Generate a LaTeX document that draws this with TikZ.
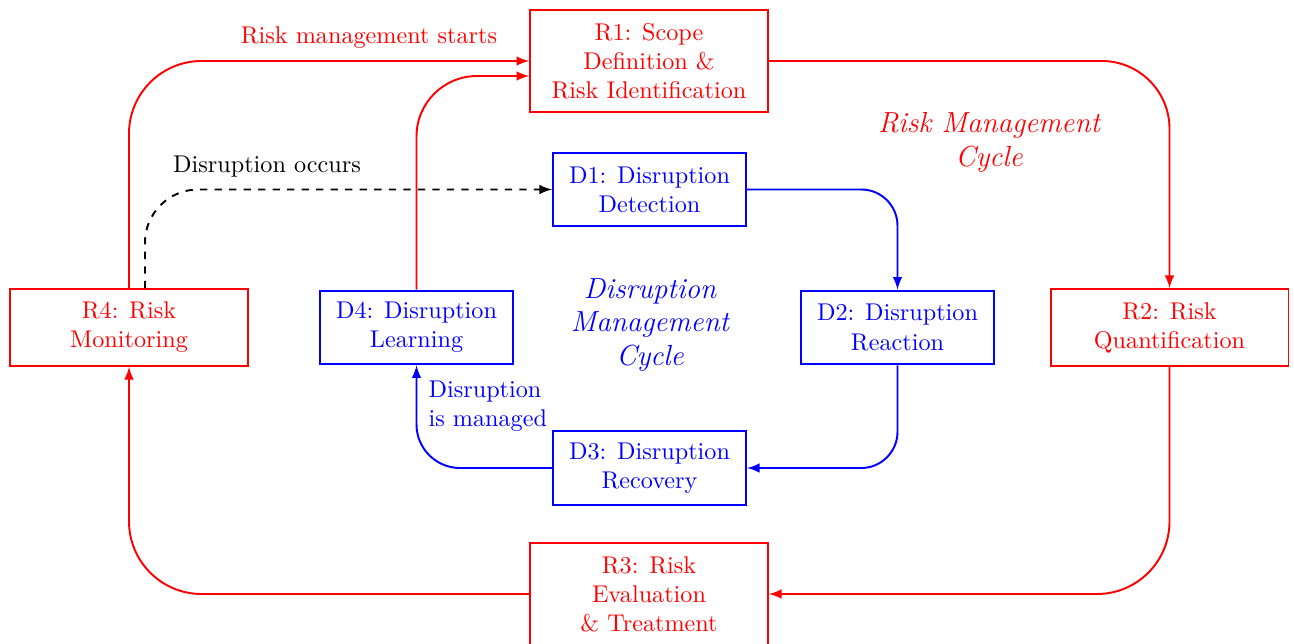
\documentclass[tikz,border=0pt]{standalone}
\usetikzlibrary{arrows}
\begin{document}
\begin{tikzpicture}[x=0.4132pt, y=-0.4132pt,
  rbox/.style={draw=red, text=red, line width=0.8pt, align=center, minimum width=98.3pt, inner sep=2pt},
  dbox/.style={draw=blue, text=blue, line width=0.8pt, align=center, minimum width=79.8pt, minimum height=30.5pt, inner sep=2pt},
  rline/.style={draw=red, line width=0.8pt, -latex},
  dline/.style={draw=blue, line width=0.8pt, -latex},
  cyclelabel/.style={font=\large\itshape, align=center}]
\useasboundingbox (0,0) rectangle (1294,644);

% risk management cycle
\node[rbox, minimum height=42.1pt] (R1) at (649,61) {R1: Scope\\Definition \&\\Risk Identification};
\node[rbox, minimum height=31.8pt] (R2) at (1169.5,327.5) {R2: Risk\\Quantification};
\node[rbox, minimum height=42.1pt] (R3) at (649,594) {R3: Risk\\Evaluation\\\& Treatment};
\node[rbox, minimum height=31.8pt] (R4) at (129,327.5) {R4: Risk\\Monitoring};

% disruption management cycle
\node[dbox] (D1) at (649.5,189.5) {D1: Disruption\\Detection};
\node[dbox] (D2) at (897.5,327.5) {D2: Disruption\\Reaction};
\node[dbox] (D3) at (649.5,468) {D3: Disruption\\Recovery};
\node[dbox] (D4) at (416.5,327.5) {D4: Disruption\\Learning};

\node[cyclelabel, text=red] (RC) at (989,142) {Risk Management\\Cycle};
\node[cyclelabel, text=blue] (DC) at (650,325) {Disruption\\Management\\Cycle};

% outer loop
\draw[rline, rounded corners=28pt] (R1.east) -| (R2.north);
\draw[rline, rounded corners=30pt] (R2.south) |- (R3.east);
\draw[rline, rounded corners=30pt] (R3.west) -| (R4.south);
\draw[rline, rounded corners=30pt] (R4.north) |- (R1.west);
\node[text=red] (start) at (369,38) {Risk management starts};

% inner loop
\draw[dline, rounded corners=15pt] (D1.east) -| (D2.north);
\draw[dline, rounded corners=15pt] (D2.south) |- (D3.east);
\draw[dline, rounded corners=18pt] (D3.west) -| (D4.south);
\node[text=blue, align=left, anchor=west] (managed) at (420,406) {Disruption\\is managed};

% links between the cycles
\draw[rline, rounded corners=25pt] (D4.north) |- ([yshift=-6.2pt]R1.west);
\draw[black, line width=0.8pt, dashed, -latex, rounded corners=22pt]
  ([xshift=6.6pt]R4.north) |- (D1.west);
\node (occurs) at (267,167) {Disruption occurs};
\end{tikzpicture}
\end{document}
